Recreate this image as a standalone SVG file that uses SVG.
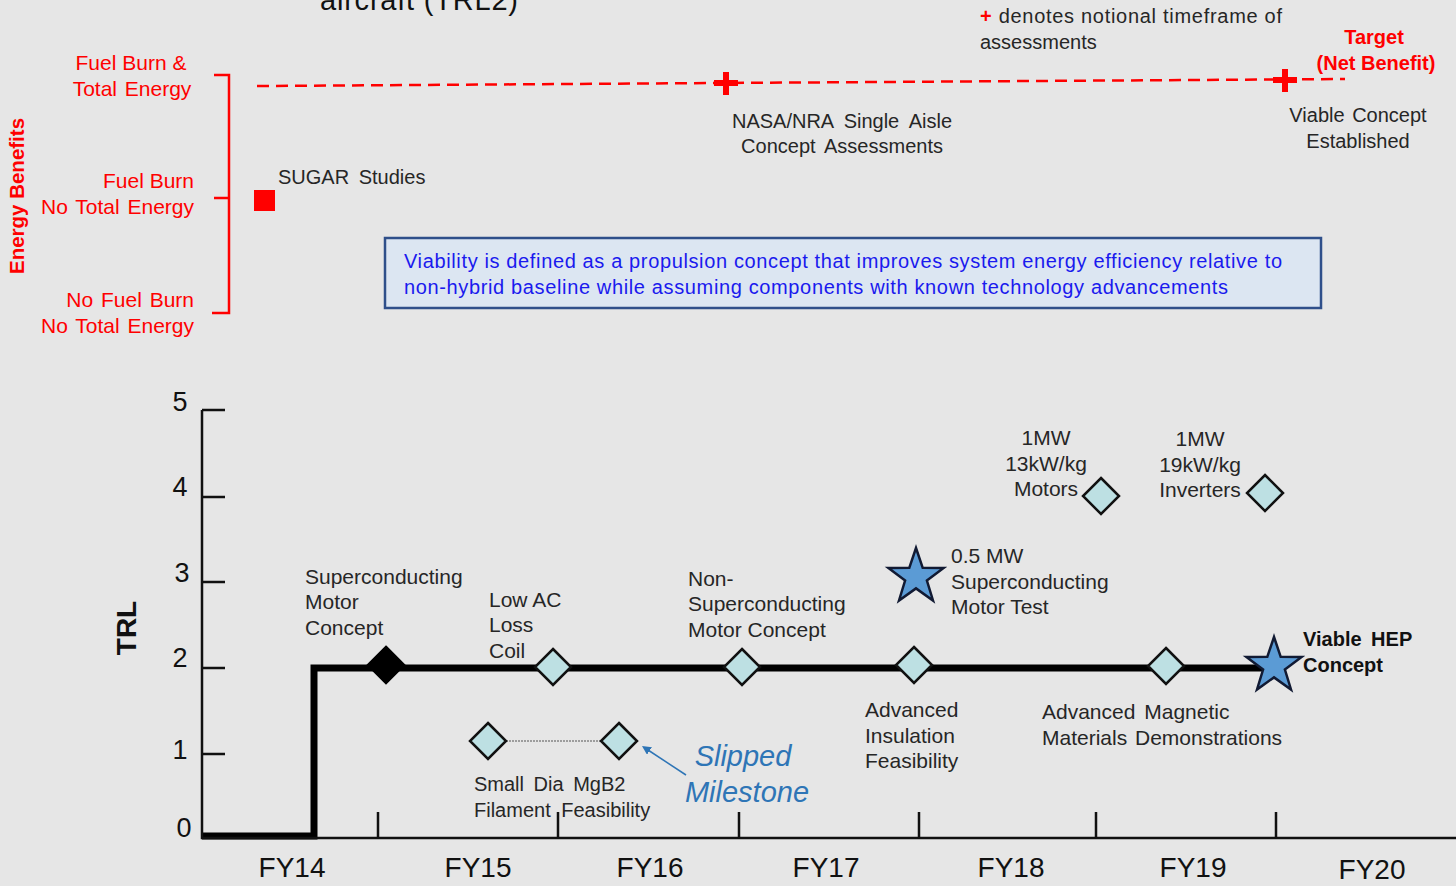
<svg xmlns="http://www.w3.org/2000/svg" width="1456" height="886" viewBox="0 0 1456 886">
<defs>
<style>
text{font-family:"Liberation Sans",Arial,sans-serif;}
.lbl{font-size:21px;fill:#262626;}
.red{font-size:21px;fill:#ff0000;}
.ax{font-size:27px;fill:#111;}
.fy{font-size:28px;fill:#111;text-anchor:middle;}
.dia{fill:#bde0e3;stroke:#111;stroke-width:2.5;}
.star{fill:#5b9bd5;stroke:#111a33;stroke-width:2.5;stroke-linejoin:miter;}
.plus{fill:none;stroke:#ff0000;stroke-width:6;}
</style>
<marker id="ah" viewBox="0 0 10 10" refX="2" refY="5" markerWidth="6" markerHeight="6" orient="auto-start-reverse">
<path d="M0,0 L10,5 L0,10 z" fill="#2e75b6"/>
</marker>
<path id="dm" d="M0,-18 L18,0 L0,18 L-18,0 Z"/>
<path id="st" d="M0,-29 L6.7,-9.2 L27.6,-9 L10.9,3.5 L17,23.5 L0,11.4 L-17,23.5 L-10.9,3.5 L-27.6,-9 L-6.7,-9.2 Z"/>
</defs>
<rect width="1456" height="886" fill="#e6e6e6"/>

<g id="title">
<text x="320" y="10" style="font-size:29px;fill:#111;" textLength="198" lengthAdjust="spacing">aircraft (TRL2)</text>
</g>

<g id="energy-axis">
<text transform="translate(24,196) rotate(-90)" text-anchor="middle" style="font-size:20.5px;font-weight:bold;fill:#ff0000;">Energy Benefits</text>
<text class="red" x="131" y="70" text-anchor="middle">Fuel Burn &amp;</text>
<text class="red" x="132" y="96" text-anchor="middle" word-spacing="2">Total Energy</text>
<text class="red" x="194" y="188" text-anchor="end">Fuel Burn</text>
<text class="red" x="194" y="214" text-anchor="end" word-spacing="2">No Total Energy</text>
<text class="red" x="194" y="307" text-anchor="end" word-spacing="2">No Fuel Burn</text>
<text class="red" x="194" y="333" text-anchor="end" word-spacing="2">No Total Energy</text>
<path d="M214,75 H229 V313 H212 M214,198 H229" fill="none" stroke="#ff0000" stroke-width="2.5"/>
</g>

<g id="sugar">
<rect x="254" y="190" width="21" height="21" fill="#ff0000"/>
<text class="lbl" x="278" y="184" style="font-size:20px" word-spacing="4">SUGAR Studies</text>
</g>

<g id="connectors">
<line x1="257" y1="86" x2="1345" y2="79" stroke="#ff0000" stroke-width="2.5" stroke-dasharray="12,7"/>
<line x1="506" y1="741" x2="601" y2="741" stroke="#555" stroke-width="1" stroke-dasharray="2,1"/>
<line x1="686" y1="775" x2="648" y2="750" stroke="#2e75b6" stroke-width="1.5" marker-end="url(#ah)"/>
<path d="M202,836 H314 V668 H1275" fill="none" stroke="#000" stroke-width="7"/>
</g>

<g id="nasa">
<path class="plus" d="M714,83 H738 M726,72 V95"/>
<text class="lbl" x="842" y="128" text-anchor="middle" style="font-size:20px" word-spacing="5">NASA/NRA Single Aisle</text>
<text class="lbl" x="842" y="153" text-anchor="middle" style="font-size:20px" word-spacing="4">Concept Assessments</text>
</g>

<g id="legend">
<text x="980" y="23" style="font-size:20px;fill:#262626;" textLength="302" lengthAdjust="spacing"><tspan style="fill:#ff0000;font-weight:bold;">+</tspan> denotes notional timeframe of</text>
<text x="980" y="49" style="font-size:20px;fill:#262626;">assessments</text>
</g>

<g id="target">
<path class="plus" d="M1273,80 H1297 M1285,69 V92"/>
<text x="1374" y="44" text-anchor="middle" style="font-size:20px;font-weight:bold;fill:#ff0000;">Target</text>
<text x="1376" y="70" text-anchor="middle" style="font-size:20px;font-weight:bold;fill:#ff0000;">(Net Benefit)</text>
<text class="lbl" x="1358" y="122" text-anchor="middle" style="font-size:20px" word-spacing="2">Viable Concept</text>
<text class="lbl" x="1358" y="148" text-anchor="middle" style="font-size:20px">Established</text>
</g>

<g id="viability-box">
<rect x="385" y="238" width="936" height="70" fill="#dce6f2" stroke="#2f4f8a" stroke-width="2.5"/>
<text x="404" y="268" style="font-size:20px;fill:#1a1aee;" textLength="878" lengthAdjust="spacing">Viability is defined as a propulsion concept that improves system energy efficiency relative to</text>
<text x="404" y="294" style="font-size:20px;fill:#1a1aee;" textLength="824" lengthAdjust="spacing">non-hybrid baseline while assuming components with known technology advancements</text>
</g>

<g id="axes">
<path d="M202,410 V838 H1456" fill="none" stroke="#111" stroke-width="2.5"/>
<path d="M202,410 H225 M202,497 H225 M202,582 H225 M202,668 H225 M202,754 H225" stroke="#111" stroke-width="2.5"/>
<path d="M378,812 V838 M558,812 V838 M739,812 V838 M919,812 V838 M1096,812 V838 M1276,812 V838" stroke="#111" stroke-width="2.5"/>
<text class="ax" x="180" y="411" text-anchor="middle">5</text>
<text class="ax" x="180" y="496" text-anchor="middle">4</text>
<text class="ax" x="182" y="582" text-anchor="middle">3</text>
<text class="ax" x="180" y="667" text-anchor="middle">2</text>
<text class="ax" x="180" y="759" text-anchor="middle">1</text>
<text class="ax" x="184" y="837" text-anchor="middle">0</text>
<text transform="translate(136,628) rotate(-90)" text-anchor="middle" style="font-size:28px;font-weight:bold;fill:#111;">TRL</text>
<text class="fy" x="292" y="877">FY14</text>
<text class="fy" x="478" y="877">FY15</text>
<text class="fy" x="650" y="877">FY16</text>
<text class="fy" x="826" y="877">FY17</text>
<text class="fy" x="1011" y="877">FY18</text>
<text class="fy" x="1193" y="877">FY19</text>
<text class="fy" x="1372" y="879">FY20</text>
</g>

<g id="m-sc-motor-concept">
<use href="#dm" transform="translate(386,665)" fill="#000" stroke="#000" stroke-width="2.5"/>
<text class="lbl" x="305" y="584">Superconducting</text>
<text class="lbl" x="305" y="609">Motor</text>
<text class="lbl" x="305" y="635">Concept</text>
</g>

<g id="m-low-ac">
<use href="#dm" class="dia" transform="translate(553,667)"/>
<text class="lbl" x="489" y="607">Low AC</text>
<text class="lbl" x="489" y="632">Loss</text>
<text class="lbl" x="489" y="658">Coil</text>
</g>

<g id="m-non-sc">
<use href="#dm" class="dia" transform="translate(742,667)"/>
<text class="lbl" x="688" y="586">Non-</text>
<text class="lbl" x="688" y="611">Superconducting</text>
<text class="lbl" x="688" y="637">Motor Concept</text>
</g>

<g id="m-insulation">
<use href="#dm" class="dia" transform="translate(914,665)"/>
<text class="lbl" x="865" y="717">Advanced</text>
<text class="lbl" x="865" y="743">Insulation</text>
<text class="lbl" x="865" y="768">Feasibility</text>
</g>

<g id="m-magnetic">
<use href="#dm" class="dia" transform="translate(1166,666)"/>
<text class="lbl" x="1042" y="719" word-spacing="3">Advanced Magnetic</text>
<text class="lbl" x="1042" y="745" word-spacing="2">Materials Demonstrations</text>
</g>

<g id="m-motors">
<use href="#dm" class="dia" transform="translate(1101,496)"/>
<text class="lbl" x="1046" y="445" text-anchor="middle">1MW</text>
<text class="lbl" x="1046" y="471" text-anchor="middle">13kW/kg</text>
<text class="lbl" x="1046" y="496" text-anchor="middle">Motors</text>
</g>

<g id="m-inverters">
<use href="#dm" class="dia" transform="translate(1265,493)"/>
<text class="lbl" x="1200" y="446" text-anchor="middle">1MW</text>
<text class="lbl" x="1200" y="472" text-anchor="middle">19kW/kg</text>
<text class="lbl" x="1200" y="497" text-anchor="middle">Inverters</text>
</g>

<g id="m-mgb2">
<use href="#dm" class="dia" transform="translate(488,741)"/>
<use href="#dm" class="dia" transform="translate(619,741)"/>
<text class="lbl" x="474" y="791" style="font-size:20px" word-spacing="4">Small Dia MgB2</text>
<text class="lbl" x="474" y="817" style="font-size:20px" word-spacing="5">Filament Feasibility</text>
</g>

<g id="slipped">
<text x="743" y="766" text-anchor="middle" style="font-size:29px;font-style:italic;fill:#2e75b6;">Slipped</text>
<text x="747" y="802" text-anchor="middle" style="font-size:29px;font-style:italic;fill:#2e75b6;">Milestone</text>
</g>

<g id="m-motor-test">
<use href="#st" class="star" transform="translate(916,577)"/>
<text class="lbl" x="951" y="563">0.5 MW</text>
<text class="lbl" x="951" y="589">Superconducting</text>
<text class="lbl" x="951" y="614">Motor Test</text>
</g>

<g id="m-viable-hep">
<use href="#st" class="star" transform="translate(1274,666)"/>
<text x="1303" y="646" style="font-size:20px;font-weight:bold;fill:#111;" word-spacing="4">Viable HEP</text>
<text x="1303" y="672" style="font-size:20px;font-weight:bold;fill:#111;">Concept</text>
</g>
</svg>
